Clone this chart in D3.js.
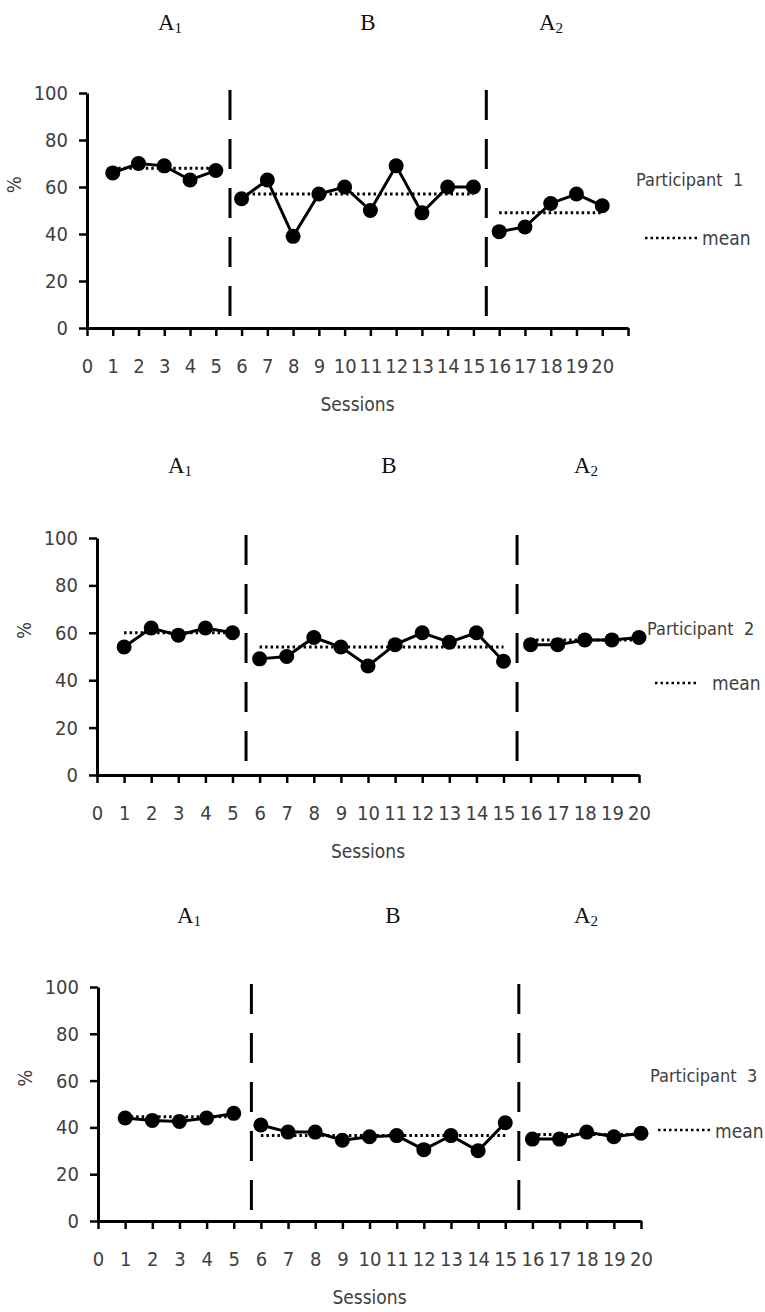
<!DOCTYPE html>
<html>
<head>
<meta charset="utf-8">
<script src="https://cdn.jsdelivr.net/npm/d3@7"></script>
<style>
    body { margin: 0; background: #fff; }
    .tick text { font-family: "DejaVu Sans Condensed", "DejaVu Sans", sans-serif; font-size: 20px; fill: #404040; }
    .tick line { stroke: #000; stroke-width: 2.5; }
    .domain { stroke: #000; stroke-width: 3; }
    .axis-label, .side-label { font-family: "DejaVu Sans Condensed", "DejaVu Sans", sans-serif; fill: #404040; white-space: pre; }
    .phase-label { font-family: "Liberation Serif", serif; fill: #111; }
</style>
</head>
<body>
<script>
/**********************
 ***      Data      ***
 **********************/

const SESSIONS = d3.range(1, 21);

// values, one per session
const P1_VALUES = [66, 70, 69, 63, 67, 55, 63, 39, 57, 60, 50, 69, 49, 60, 60, 41, 43, 53, 57, 52];
const P2_VALUES = [54, 62, 59, 62, 60, 49, 50, 58, 54, 46, 55, 60, 56, 60, 48, 55, 55, 57, 57, 58];
const P3_VALUES = [44, 43, 42.5, 44, 46, 41, 38, 38, 34.5, 36, 36.5, 30.5, 36.5, 30, 42, 35, 35, 38, 36, 37.5];

// phase means (dotted lines)
const P1_MEANS = [68, 57, 49];
const P2_MEANS = [60, 54, 57];
const P3_MEANS = [44.5, 36.5, 37];

const PHASE_NAMES = ['A', 'B', 'A'];
const PHASE_SUBS = ['1', '', '2'];
const PHASE_START = [1, 6, 16];
const PHASE_END = [5, 15, 20];

const Y_TICKS = [0, 20, 40, 60, 80, 100];
const PARTICIPANTS = ['Participant  1', 'Participant  2', 'Participant  3'];

/**********************
 ***     Layout     ***
 **********************/

const SCREEN = { width: 765, height: 1312 };

const PANELS = [
    { values: P1_VALUES, means: P1_MEANS, name: PARTICIPANTS[0],
      x: [87, 628], xMax: 21, y: [328, 93], dividers: [5.55, 15.5],
      labelX: [170, 368, 551], labelY: 30,
      partX: 636, partY: 186, legX: [645, 698], legY: 238, meanX: 702, meanY: 245 },
    { values: P2_VALUES, means: P2_MEANS, name: PARTICIPANTS[1],
      x: [97, 639], xMax: 20, y: [775, 538], dividers: [5.5, 15.5],
      labelX: [180, 389, 586], labelY: 473,
      partX: 647, partY: 635, legX: [655, 698], legY: 683, meanX: 712, meanY: 690 },
    { values: P3_VALUES, means: P3_MEANS, name: PARTICIPANTS[2],
      x: [98, 641], xMax: 20, y: [1221, 987], dividers: [5.65, 15.5],
      labelX: [189, 393, 586], labelY: 923,
      partX: 650, partY: 1082, legX: [658, 710], legY: 1130, meanX: 715, meanY: 1138 }
];

const svg = d3.select('body').append('svg')
    .attr('width', SCREEN.width)
    .attr('height', SCREEN.height);

/**********************
 ***    Drawing     ***
 **********************/

PANELS.forEach(p => {
    const g = svg.append('g');

    const x = d3.scaleLinear().domain([0, p.xMax]).range(p.x);
    const y = d3.scaleLinear().domain([0, 100]).range(p.y);

    // phase headings
    PHASE_NAMES.forEach((name, i) => {
        const t = g.append('text')
            .attr('class', 'phase-label')
            .attr('x', p.labelX[i])
            .attr('y', p.labelY)
            .attr('text-anchor', 'middle')
            .style('font-size', '23px')
            .text(name);
        if (PHASE_SUBS[i]) {
            t.append('tspan')
                .attr('dy', 3)
                .style('font-size', '15px')
                .text(PHASE_SUBS[i]);
        }
    });

    // axes
    const xAxis = d3.axisBottom(x)
        .tickValues(d3.range(0, p.xMax + 1))
        .tickFormat(d => d <= 20 ? d : '')
        .tickSize(8)
        .tickSizeOuter(0)
        .tickPadding(23);
    g.append('g')
        .attr('transform', `translate(0,${y(0)})`)
        .call(xAxis);

    const yAxis = d3.axisLeft(y)
        .tickValues(Y_TICKS)
        .tickSize(8)
        .tickSizeOuter(0)
        .tickPadding(11);
    g.append('g')
        .attr('transform', `translate(${x(0)},0)`)
        .call(yAxis);

    g.append('text')
        .attr('class', 'axis-label')
        .attr('x', (p.x[0] + p.x[1]) / 2)
        .attr('y', y(0) + 83)
        .attr('text-anchor', 'middle')
        .style('font-size', '19px')
        .text('Sessions');

    g.append('text')
        .attr('class', 'axis-label')
        .attr('transform', `translate(${x(0) - 66},${y(61)}) rotate(-90)`)
        .attr('text-anchor', 'middle')
        .style('font-size', '20px')
        .text('%');

    // phase change lines
    g.selectAll('.divider')
        .data(p.dividers)
        .enter().append('line')
            .attr('class', 'divider')
            .attr('x1', d => x(d))
            .attr('x2', d => x(d))
            .attr('y1', y(100) - 3)
            .attr('y2', y(0) - 11)
            .attr('stroke', '#000')
            .attr('stroke-width', 3)
            .attr('stroke-dasharray', '30,19');

    // mean lines
    g.selectAll('.mean')
        .data(p.means)
        .enter().append('line')
            .attr('class', 'mean')
            .attr('x1', (d, i) => x(PHASE_START[i]))
            .attr('x2', (d, i) => x(PHASE_END[i]))
            .attr('y1', d => y(d))
            .attr('y2', d => y(d))
            .attr('stroke', '#000')
            .attr('stroke-width', 3)
            .attr('stroke-dasharray', '2.5,3');

    // data lines, broken at each phase change
    const line = d3.line()
        .x(d => x(d.session))
        .y(d => y(d.value));
    const points = SESSIONS.map((s, i) => ({ session: s, value: p.values[i] }));
    PHASE_START.forEach((start, i) => {
        g.append('path')
            .datum(points.filter(d => d.session >= start && d.session <= PHASE_END[i]))
            .attr('d', line)
            .attr('fill', 'none')
            .attr('stroke', '#000')
            .attr('stroke-width', 3);
    });

    g.selectAll('.dot')
        .data(points)
        .enter().append('circle')
            .attr('class', 'dot')
            .attr('cx', d => x(d.session))
            .attr('cy', d => y(d.value))
            .attr('r', 7.5)
            .attr('fill', '#000');

    // participant label + mean legend
    g.append('text')
        .attr('class', 'side-label')
        .attr('x', p.partX)
        .attr('y', p.partY)
        .style('font-size', '18px')
        .text(p.name);

    g.append('line')
        .attr('x1', p.legX[0])
        .attr('x2', p.legX[1])
        .attr('y1', p.legY)
        .attr('y2', p.legY)
        .attr('stroke', '#000')
        .attr('stroke-width', 2.5)
        .attr('stroke-dasharray', '2.5,3');

    g.append('text')
        .attr('class', 'side-label')
        .attr('x', p.meanX)
        .attr('y', p.meanY)
        .style('font-size', '19px')
        .text('mean');
});
</script>
</body>
</html>
